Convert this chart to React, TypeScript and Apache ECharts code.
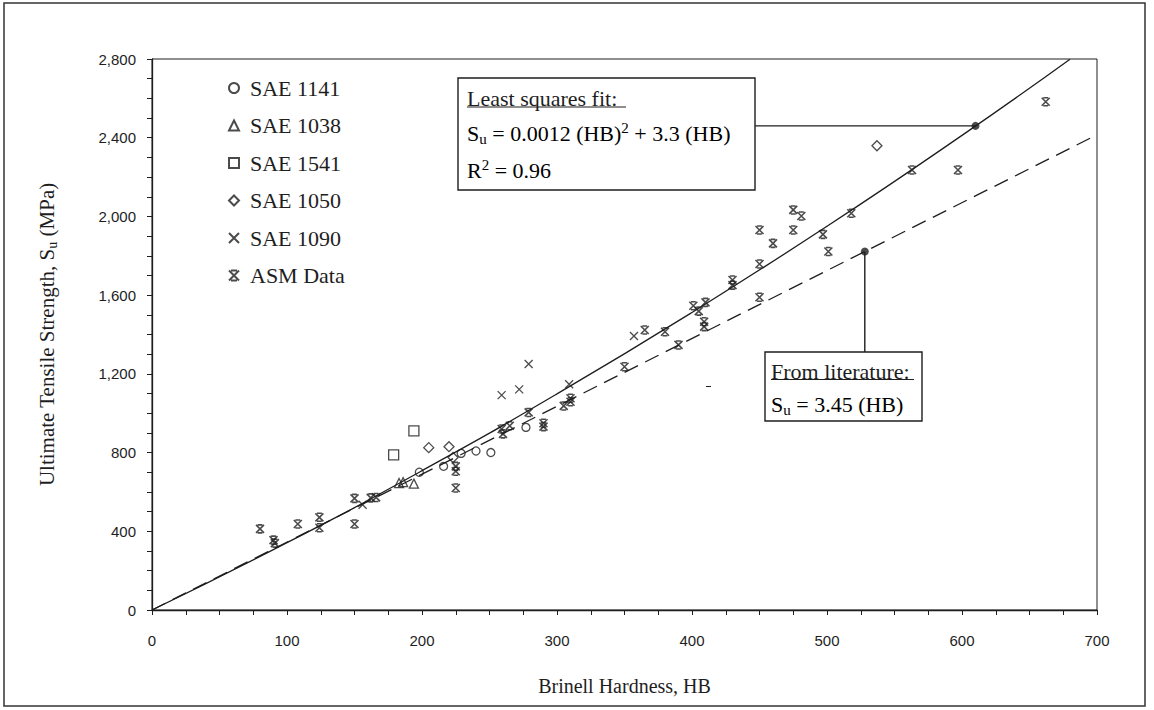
import React, { useEffect, useRef } from "react";
import * as echarts from "echarts";

// ---- data ----
const SAE1141: number[][] = [[198, 700], [216, 730], [229, 796], [240, 808], [251, 800], [277, 928]];
const SAE1038: number[][] = [[183, 645], [186, 650], [194, 642]];
const SAE1541: number[][] = [[179, 788], [194, 910]];
const SAE1050: number[][] = [[205, 825], [220, 830], [223, 775], [537, 2359]];
const SAE1090: number[][] = [[156, 535], [259, 1092], [272, 1121], [279, 1250], [309, 1147], [357, 1392]];
const ASM: number[][] = [
  [80, 412], [90, 355], [91, 340], [108, 437], [124, 471], [124, 418], [150, 567], [150, 437], [162, 570], [166, 572],
  [225, 730], [225, 705], [225, 620],
  [259, 920], [260, 895], [265, 936],
  [279, 1004], [290, 949], [290, 932], [305, 1037], [310, 1076], [310, 1058],
  [350, 1236], [365, 1423], [380, 1414], [390, 1347],
  [401, 1546], [405, 1519], [410, 1563], [409, 1465], [409, 1440],
  [430, 1677], [430, 1651],
  [450, 1931], [450, 1758], [450, 1589], [460, 1863],
  [475, 2033], [481, 2002], [475, 1931],
  [497, 1909], [501, 1822], [518, 2016],
  [563, 2236], [597, 2236], [662, 2583],
];

// least squares fit curve
const FIT_HB = [0, 100, 200, 300, 400, 500, 600, 680];
const FIT_SU = [0, 342, 708, 1098, 1512, 1950, 2412, 2799];
// literature line (dashed)
const LIT_HB = [0, 700];
const LIT_SU = [0, 2415];
// callout points and leader ends
const FIT_POINT = [610, 2460];
const FIT_LEADER_END = [446, 2460];
const LIT_POINT = [528, 1822];
const LIT_LEADER_END = [528, 1311];

const X_MAX = 700;
const Y_MAX = 2800;

const INK = "#1e1e1e";
const SERIF = "'Liberation Serif', 'Times New Roman', serif";
const SANS = "'Liberation Sans', Arial, sans-serif";

const CROSS = "path://M0,0 L10,10 M10,0 L0,10";
const ASM_SYM = "path://M2,0 L8,0 M2,10 L8,10 M0,0 L10,10 M10,0 L0,10";

const openStyle = { color: "transparent", borderColor: INK, borderWidth: 1.3 };

export default function App() {
  const ref = useRef<HTMLDivElement>(null);
  useEffect(() => {
    if (!ref.current) return;
    const chart = echarts.init(ref.current, undefined, { renderer: "svg" });
    const zip = (a: number[], b: number[]) => a.map((v, i) => [v, b[i]]);
    const subRich = {
      n: { fontSize: 22, fontFamily: SERIF, color: INK, lineHeight: 26, verticalAlign: "middle" },
      sub: { fontSize: 15, fontFamily: SERIF, color: INK, lineHeight: 13, verticalAlign: "bottom" },
      sup: { fontSize: 15, fontFamily: SERIF, color: INK, lineHeight: 13, verticalAlign: "top" },
    };
    const option: any = {
      animation: false,
      backgroundColor: "#fff",
      grid: { left: 152, right: 57, top: 59, bottom: 100, show: true, borderColor: INK, borderWidth: 1 },
      legend: {
        orient: "vertical",
        left: 228,
        top: 77,
        padding: 0,
        itemWidth: 10,
        itemHeight: 10,
        itemGap: 15.5,
        textStyle: { fontFamily: SERIF, fontSize: 22, color: INK, padding: [0, 0, 0, 6] },
        data: ["SAE 1141", "SAE 1038", "SAE 1541", "SAE 1050", "SAE 1090", "ASM Data"],
      },
      xAxis: {
        type: "value",
        min: 0,
        max: X_MAX,
        interval: 25,
        name: "Brinell Hardness, HB",
        nameLocation: "middle",
        nameGap: 66,
        nameTextStyle: { fontFamily: SERIF, fontSize: 20, color: INK },
        axisLine: { show: true, lineStyle: { color: INK, width: 1.3 } },
        axisTick: { show: true, length: 5, lineStyle: { color: INK } },
        splitLine: { show: false },
        axisLabel: {
          margin: 23,
          fontFamily: SANS,
          fontSize: 15,
          color: INK,
          formatter: (v: number) => (v % 100 === 0 ? String(v) : ""),
        },
      },
      yAxis: {
        type: "value",
        min: 0,
        max: Y_MAX,
        interval: 100,
        name: "{a|Ultimate Tensile Strength, S}{s|u}{a| (MPa)}",
        nameLocation: "middle",
        nameGap: 93,
        nameRotate: 90,
        nameTextStyle: {
          rich: {
            a: { fontFamily: SERIF, fontSize: 21, color: INK, lineHeight: 24, verticalAlign: "middle" },
            s: { fontFamily: SERIF, fontSize: 14, color: INK, lineHeight: 13, verticalAlign: "bottom" },
          },
        },
        axisLine: { show: true, lineStyle: { color: INK, width: 1.3 } },
        axisTick: { show: true, length: 5, lineStyle: { color: INK } },
        splitLine: { show: false },
        axisLabel: {
          margin: 16,
          fontFamily: SANS,
          fontSize: 15,
          color: INK,
          formatter: (v: number) => (v % 400 === 0 ? v.toLocaleString("en-US") : ""),
        },
      },
      series: [
        {
          name: "fit",
          type: "line",
          data: zip(FIT_HB, FIT_SU),
          smooth: true,
          showSymbol: false,
          lineStyle: { color: INK, width: 1.3 },
          z: 1,
          silent: true,
        },
        {
          name: "literature",
          type: "line",
          data: zip(LIT_HB, LIT_SU),
          showSymbol: false,
          lineStyle: { color: INK, width: 1.3, type: [15, 8] },
          z: 1,
          silent: true,
        },
        {
          name: "fitLeader",
          type: "line",
          data: [FIT_LEADER_END, FIT_POINT],
          showSymbol: false,
          lineStyle: { color: INK, width: 1.4 },
          z: 1,
          silent: true,
        },
        {
          name: "litLeader",
          type: "line",
          data: [LIT_POINT, LIT_LEADER_END],
          showSymbol: false,
          lineStyle: { color: INK, width: 1.4 },
          z: 1,
          silent: true,
        },
        {
          name: "callouts",
          type: "scatter",
          data: [FIT_POINT, LIT_POINT],
          symbol: "circle",
          symbolSize: 8,
          itemStyle: { color: INK },
          z: 3,
        },
        { name: "SAE 1141", type: "scatter", data: SAE1141, symbol: "circle", symbolSize: 8, itemStyle: openStyle, z: 4 },
        { name: "SAE 1038", type: "scatter", data: SAE1038, symbol: "triangle", symbolSize: 9, itemStyle: openStyle, z: 4 },
        { name: "SAE 1541", type: "scatter", data: SAE1541, symbol: "rect", symbolSize: 10, itemStyle: openStyle, z: 4 },
        { name: "SAE 1050", type: "scatter", data: SAE1050, symbol: "diamond", symbolSize: 10, itemStyle: openStyle, z: 4 },
        { name: "SAE 1090", type: "scatter", data: SAE1090, symbol: CROSS, symbolSize: 8, itemStyle: openStyle, z: 4 },
        { name: "ASM Data", type: "scatter", data: ASM, symbol: ASM_SYM, symbolSize: 8, itemStyle: { color: "transparent", borderColor: INK, borderWidth: 1.6 }, z: 4 },
      ],
      graphic: [
        // outer frame
        { type: "rect", shape: { x: 4, y: 3, width: 1141, height: 703 }, style: { fill: "none", stroke: "#333", lineWidth: 1.5 }, z: 0 },
        // fit box
        { type: "rect", shape: { x: 458, y: 78, width: 297, height: 112 }, style: { fill: "#fff", stroke: INK, lineWidth: 1.4 }, z: 5 },
        { type: "text", x: 467, y: 98, style: { text: "Least squares fit:", font: `22px ${SERIF}`, fill: INK, verticalAlign: "middle" }, z: 6 },
        { type: "line", shape: { x1: 467, y1: 107, x2: 626, y2: 107 }, style: { stroke: INK, lineWidth: 1.1 }, z: 6 },
        {
          type: "text",
          x: 467,
          y: 133,
          style: {
            text: "{n|S}{sub|u}{n| = 0.0012 (HB)}{sup|2}{n| + 3.3 (HB)}",
            rich: subRich,
            verticalAlign: "middle",
          },
          z: 6,
        },
        {
          type: "text",
          x: 467,
          y: 170,
          style: { text: "{n|R}{sup|2}{n| = 0.96}", rich: subRich, verticalAlign: "middle" },
          z: 6,
        },
        // literature box
        { type: "rect", shape: { x: 765, y: 352, width: 157, height: 69 }, style: { fill: "#fff", stroke: INK, lineWidth: 1.4 }, z: 5 },
        { type: "text", x: 771, y: 371, style: { text: "From literature:", font: `22px ${SERIF}`, fill: INK, verticalAlign: "middle" }, z: 6 },
        { type: "line", shape: { x1: 771, y1: 379.5, x2: 914, y2: 379.5 }, style: { stroke: INK, lineWidth: 1.1 }, z: 6 },
        {
          type: "text",
          x: 771,
          y: 404,
          style: { text: "{n|S}{sub|u}{n| = 3.45 (HB)}", rich: subRich, verticalAlign: "middle" },
          z: 6,
        },
        // small stray dash in the plot
        { type: "line", shape: { x1: 706, y1: 386.5, x2: 711, y2: 386.5 }, style: { stroke: INK, lineWidth: 1 }, z: 6 },
      ],
    };
    chart.setOption(option);
    return () => chart.dispose();
  }, []);
  return (
    <div
      ref={ref}
      style={{ position: "fixed", left: 0, top: 0, width: 1154, height: 710, background: "#fff" }}
    />
  );
}
